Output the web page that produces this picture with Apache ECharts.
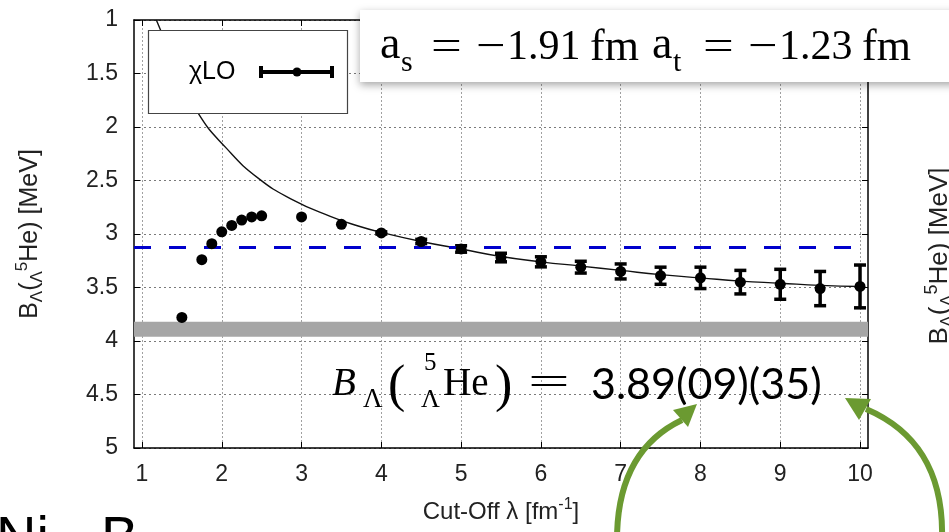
<!DOCTYPE html>
<html><head><meta charset="utf-8">
<script src="https://cdn.jsdelivr.net/npm/echarts@6/dist/echarts.min.js"></script>
<style>html,body{margin:0;padding:0;background:#fff}#c{width:949px;height:532px}</style>
</head><body><div id="c"></div>
<script>
// ---- data ----
const lambdaVals  = [1.5, 1.75, 1.875, 2.0, 2.125, 2.25, 2.375, 2.5, 3.0, 3.5, 4.0, 4.5, 5.0, 5.5, 6.0, 6.5, 7.0, 7.5, 8.0, 8.5, 9.0, 9.5, 10.0];
const bindingVals = [3.78, 3.24, 3.09, 2.98, 2.92, 2.87, 2.84, 2.83, 2.84, 2.91, 2.99, 3.07, 3.14, 3.22, 3.26, 3.31, 3.35, 3.39, 3.41, 3.45, 3.47, 3.51, 3.49];
const errorVals   = [0, 0, 0, 0, 0, 0, 0, 0, 0, 0, 0.01, 0.02, 0.03, 0.04, 0.047, 0.055, 0.07, 0.08, 0.10, 0.11, 0.14, 0.16, 0.20];
const curveLambda = [1.18, 1.45, 1.70, 2.06, 2.46, 2.89, 3.36, 3.71, 4.0, 4.5, 5.0, 5.5, 6.0, 6.5, 7.0, 7.5, 8.0, 8.5, 9.0, 9.5, 10.0];
const curveB      = [1.00, 1.47, 1.866, 2.20, 2.48, 2.68, 2.835, 2.925, 2.985, 3.07, 3.14, 3.21, 3.26, 3.30, 3.34, 3.38, 3.41, 3.44, 3.46, 3.48, 3.49];
const xTicks = [1, 2, 3, 4, 5, 6, 7, 8, 9, 10];
const yTickLabels = ['1', '1.5', '2', '2.5', '3', '3.5', '4', '4.5', '5'];
const dashedLevel = 3.12;
const bandLow = 3.82, bandHigh = 3.96;

const chart = echarts.init(document.getElementById('c'), null, {renderer: 'canvas'});
const SANS = 'Liberation Sans';
const SERIF = 'Liberation Serif';
const tickFont = {fontSize: 23, fontFamily: SANS, color: '#222'};
const axisLineStyle = {color: '#000', width: 1.5};

function xAxisDef(pos, showLabel) {
  return {
    type: 'value', position: pos, min: 0.9, max: 10.1,
    axisLine: {show: true, onZero: false, lineStyle: axisLineStyle},
    axisTick: {show: true, inside: true, length: 6, customValues: xTicks, lineStyle: {color: '#000', width: 1}},
    axisLabel: Object.assign({show: showLabel, customValues: xTicks, margin: 15}, tickFont),
    splitLine: {show: false}
  };
}
function yAxisDef(pos, showLabel) {
  return {
    type: 'value', position: pos, min: 1, max: 5, interval: 0.5, inverse: true,
    axisLine: {show: true, onZero: false, lineStyle: axisLineStyle},
    axisTick: {show: true, inside: true, length: 6, lineStyle: {color: '#000', width: 1}},
    axisLabel: Object.assign({show: showLabel, margin: 16,
      formatter: v => yTickLabels[Math.round((v - 1) * 2)]}, tickFont),
    splitLine: {show: showLabel, lineStyle: {color: '#7a7a7a', width: 1, type: [2, 3]}}
  };
}

function txt(text, x, y, font, extra) {
  const el = {type: 'text', x: x, y: y, z: 50,
    style: {text: text, font: font, fill: '#000', align: 'left', verticalAlign: 'middle'}};
  return Object.assign(el, extra || {});
}
function yTitle(x, y, fs) {
  const sub = Math.round(fs * 0.68);
  return {type: 'text', x: x, y: y, rotation: Math.PI / 2, z: 50,
    style: {text: '{m|B}{s|Λ}{m|(}{s|Λ}{p|5}{m|He) [MeV]}', align: 'center', verticalAlign: 'middle', fill: '#222',
      rich: {m: {fontSize: fs, fontFamily: SANS, lineHeight: fs + 7, fill: '#222'},
             s: {fontSize: sub, fontFamily: SANS, lineHeight: sub - 2, verticalAlign: 'top', padding: [Math.round(fs * 0.6), 0, 0, 0], fill: '#222'},
             p: {fontSize: sub, fontFamily: SANS, lineHeight: sub - 2, verticalAlign: 'top', fill: '#222'}}}};
}

const arrowColor = '#6b9a31';

const option = {
  animation: false,
  backgroundColor: '#fff',
  grid: {left: 134, top: 20, width: 734, height: 428, containLabel: false},
  xAxis: [xAxisDef('bottom', true), xAxisDef('top', false)],
  yAxis: [yAxisDef('left', true), yAxisDef('right', false)],
  series: [
    { // vertical dotted grid lines at the x ticks
      type: 'line', data: [], silent: true,
      markLine: {silent: true, z: 0, symbol: ['none', 'none'], label: {show: false},
        lineStyle: {color: '#a0a0a0', width: 1, type: [2, 2]},
        data: xTicks.map(v => ({xAxis: v}))}
    },
    { // fitted curve + band + dashed reference
      type: 'line', name: 'fit', z: 3,
      data: curveLambda.map((x, i) => [x, curveB[i]]),
      smooth: 0.5, showSymbol: false, symbol: 'none', clip: true,
      lineStyle: {color: '#111', width: 1.4},
      markArea: {silent: true, z: 1, itemStyle: {color: '#a6a6a6', opacity: 1},
        data: [[{yAxis: bandLow}, {yAxis: bandHigh}]]},
      markLine: {silent: true, z: 5, symbol: ['none', 'none'], label: {show: false},
        lineStyle: {color: '#0000cc', width: 3, type: [17, 18]},
        data: [{yAxis: dashedLevel}]}
    },
    { // error bars
      type: 'custom', z: 4, encode: {x: 0, y: 1},
      data: lambdaVals.map((x, i) => [x, bindingVals[i], errorVals[i]]),
      renderItem: function (params, api) {
        const x = api.value(0), y = api.value(1), e = api.value(2);
        if (!e) return null;
        const a = api.coord([x, y - e]), b = api.coord([x, y + e]);
        const cw = 6, st = {stroke: '#000', lineWidth: 3.5};
        return {type: 'group', children: [
          {type: 'line', shape: {x1: a[0], y1: a[1], x2: b[0], y2: b[1]}, style: st},
          {type: 'line', shape: {x1: a[0] - cw, y1: a[1], x2: a[0] + cw, y2: a[1]}, style: st},
          {type: 'line', shape: {x1: b[0] - cw, y1: b[1], x2: b[0] + cw, y2: b[1]}, style: st}
        ]};
      }
    },
    { // points
      type: 'scatter', z: 5, symbolSize: 11,
      data: lambdaVals.map((x, i) => [x, bindingVals[i]]),
      itemStyle: {color: '#000', opacity: 1}
    }
  ],
  graphic: [
    // axis titles
    yTitle(30, 234, 25),
    yTitle(940, 256, 26),
    {type: 'text', x: 501, y: 512, z: 50,
      style: {text: '{m|Cut-Off λ [fm}{p|-1}{m|]}', align: 'center', verticalAlign: 'middle', fill: '#222',
        rich: {m: {fontSize: 24, fontFamily: SANS, lineHeight: 31, fill: '#222'},
               p: {fontSize: 16, fontFamily: SANS, lineHeight: 14, verticalAlign: 'top', fill: '#222'}}}},
    // legend box
    {type: 'rect', z: 40, shape: {x: 148.5, y: 30.5, width: 199, height: 83},
      style: {fill: '#fff', stroke: '#444', lineWidth: 1.2}},
    txt('χLO', 189, 72, '25px ' + SANS, {z: 41}),
    {type: 'line', z: 41, shape: {x1: 261, y1: 72, x2: 332, y2: 72}, style: {stroke: '#000', lineWidth: 4}},
    {type: 'line', z: 41, shape: {x1: 261, y1: 66, x2: 261, y2: 78}, style: {stroke: '#000', lineWidth: 4}},
    {type: 'line', z: 41, shape: {x1: 332, y1: 66, x2: 332, y2: 78}, style: {stroke: '#000', lineWidth: 4}},
    {type: 'circle', z: 41, shape: {cx: 297, cy: 72, r: 4.5}, style: {fill: '#000'}},
    // scattering-length annotation box
    {type: 'rect', z: 60, shape: {x: 360, y: 10, width: 640, height: 72},
      style: {fill: '#fff', shadowBlur: 8, shadowOffsetX: 0, shadowOffsetY: 3, shadowColor: 'rgba(0,0,0,0.35)'}},
    txt('a', 380, 46, '46px ' + SERIF, {z: 61}),
    txt('s', 401, 63, '30px ' + SERIF, {z: 61}),
    txt('=', 431, 48, '42px ' + SERIF, {z: 61, scaleX: 1.3}),
    txt('−', 476, 48, '42px ' + SERIF, {z: 61, scaleX: 1.25}),
    txt('1.91', 507, 48, '42px ' + SERIF, {z: 61}),
    txt('fm', 590, 48, '44px ' + SERIF, {z: 61}),
    txt('a', 652, 46, '46px ' + SERIF, {z: 61}),
    txt('t', 673, 63, '30px ' + SERIF, {z: 61}),
    txt('=', 703, 48, '42px ' + SERIF, {z: 61, scaleX: 1.3}),
    txt('−', 748, 48, '42px ' + SERIF, {z: 61, scaleX: 1.25}),
    txt('1.23', 779, 48, '42px ' + SERIF, {z: 61}),
    txt('fm', 862, 48, '44px ' + SERIF, {z: 61}),
    // result formula
    txt('B', 332, 385, 'italic 39px ' + SERIF, {z: 62}),
    txt('Λ', 363, 400, '27px ' + SERIF, {z: 62}),
    txt('(', 388, 387, '52px ' + SERIF, {z: 62}),
    txt('5', 424, 363, '25px ' + SERIF, {z: 62}),
    txt('Λ', 421, 400, '26px ' + SERIF, {z: 62}),
    txt('He', 443, 385, '39px ' + SERIF, {z: 62}),
    txt(')', 495, 387, '52px ' + SERIF, {z: 62}),
    txt('=', 528, 385, '39px ' + SERIF, {z: 62, scaleX: 1.9}),
    txt('3.89(09)(35)', 591, 385, '43px Lato', {z: 62}),
    // slide text at the bottom
    txt('Ni', -4, 540, '56px ' + SANS, {z: 62}),
    txt('B', 101, 540, '56px ' + SANS, {z: 62}),
    // green arrows
    {type: 'bezierCurve', z: 70, shape: {x1: 617, y1: 540, cpx1: 617, cpy1: 480, cpx2: 640, cpy2: 440, x2: 682, y2: 420},
      style: {stroke: arrowColor, lineWidth: 6, fill: null}},
    {type: 'polygon', z: 70, shape: {points: [[697, 404], [688, 427], [673, 410]]}, style: {fill: arrowColor}},
    {type: 'bezierCurve', z: 70, shape: {x1: 942, y1: 540, cpx1: 944, cpy1: 470, cpx2: 915, cpy2: 430, x2: 866, y2: 409},
      style: {stroke: arrowColor, lineWidth: 6, fill: null}},
    {type: 'polygon', z: 70, shape: {points: [[845, 398], [871, 399], [859, 420]]}, style: {fill: arrowColor}}
  ]
};
chart.setOption(option);
</script></body></html>
